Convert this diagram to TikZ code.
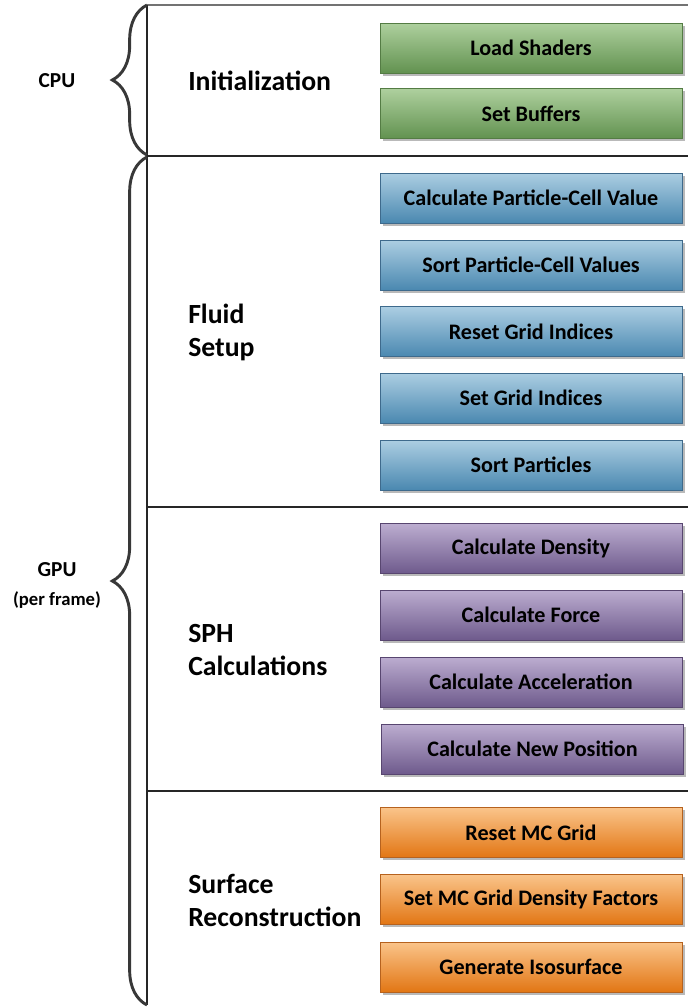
\documentclass[tikz,border=0pt]{standalone}
\usepackage{fontspec}
\setmainfont{Carlito}
\usetikzlibrary{shadows,decorations.pathreplacing}
\definecolor{grntop}{RGB}{174,208,158}
\definecolor{grnbot}{RGB}{98,146,80}
\definecolor{grnline}{RGB}{84,124,68}
\definecolor{blutop}{RGB}{172,206,226}
\definecolor{blubot}{RGB}{74,136,176}
\definecolor{bluline}{RGB}{62,106,140}
\definecolor{purtop}{RGB}{188,173,208}
\definecolor{purbot}{RGB}{110,90,140}
\definecolor{purline}{RGB}{88,70,112}
\definecolor{orgtop}{RGB}{250,196,138}
\definecolor{orgbot}{RGB}{226,118,20}
\definecolor{orgline}{RGB}{182,98,30}
\tikzset{
  task/.style={draw=#1line, top color=#1top, bottom color=#1bot, line width=0.6pt,
    minimum width=226.5pt, minimum height=37.5pt, inner sep=0pt,
    font=\fontsize{16.6}{19}\selectfont\bfseries,
    drop shadow={shadow xshift=2pt, shadow yshift=-2pt, fill=black!50, opacity=0.55}},
  stage/.style={anchor=west, align=left, inner sep=0pt,
    font=\fontsize{20.8}{24.75}\selectfont\bfseries},
  unit/.style={font=\fontsize{16}{18}\selectfont\bfseries},
  curly/.style={decorate, decoration={brace,amplitude=26pt}, line width=2.2pt, black!78},
  rule/.style={line width=0.8pt, black!85}
}
\begin{document}
\begin{tikzpicture}[x=0.75pt,y=-0.75pt]
\useasboundingbox (0,0) rectangle (688,1007);
% frame
\coordinate (tl) at (147,5);
\coordinate (tr) at (688,5);
\coordinate (bl) at (147,1005);
\draw[line width=0.8pt, black!55] (tl) -- (tr);
\draw[rule] (tl) -- (bl);
\coordinate (s1l) at (147,156); \coordinate (s1r) at (688,156);
\coordinate (s2l) at (147,507); \coordinate (s2r) at (688,507);
\coordinate (s3l) at (147,791); \coordinate (s3r) at (688,791);
\draw[rule] (s1l) -- (s1r);
\draw[rule] (s2l) -- (s2r);
\draw[rule] (s3l) -- (s3r);
%
\coordinate (cpub) at (147,155);
\coordinate (gpub) at (147,1005);
\coordinate (gput) at (147,157);
\draw[curly] (cpub) -- (tl);
\draw[curly] (gpub) -- (gput);
\node[unit] (cpu) at (57,81) {CPU};
\node[unit] (gpu) at (57,570) {GPU};
\node[font=\fontsize{14}{16}\selectfont\bfseries] (gpunote) at (57,600) {(per frame)};
%
\node[stage] (init) at (188,81) {Initialization};
\node[stage] (fluid) at (188,332.5) {Fluid\\Setup};
\node[stage] (sph) at (188,649.5) {SPH\\Calculations};
\node[stage] (surf) at (188,900) {Surface\\Reconstruction};
%
\node[task=grn] (load) at (531,48) {Load Shaders};
\node[task=grn] (buffers) at (531,113.5) {Set Buffers};
%
\node[task=blu] (pcval) at (531,198) {Calculate Particle-Cell Value};
\node[task=blu] (pcsort) at (531,265) {Sort Particle-Cell Values};
\node[task=blu] (gridreset) at (531,331.5) {Reset Grid Indices};
\node[task=blu] (gridset) at (531,398) {Set Grid Indices};
\node[task=blu] (psort) at (531,465) {Sort Particles};
%
\node[task=pur] (density) at (531,548.5) {Calculate Density};
\node[task=pur] (force) at (531,615) {Calculate Force};
\node[task=pur] (accel) at (531,682) {Calculate Acceleration};
\node[task=pur] (newpos) at (532.5,749) {Calculate New Position};
%
\node[task=org] (mcreset) at (531,832.5) {Reset MC Grid};
\node[task=org] (mcdens) at (531,899.5) {Set MC Grid Density Factors};
\node[task=org] (iso) at (531,967) {Generate Isosurface};
%
\end{tikzpicture}
\end{document}
